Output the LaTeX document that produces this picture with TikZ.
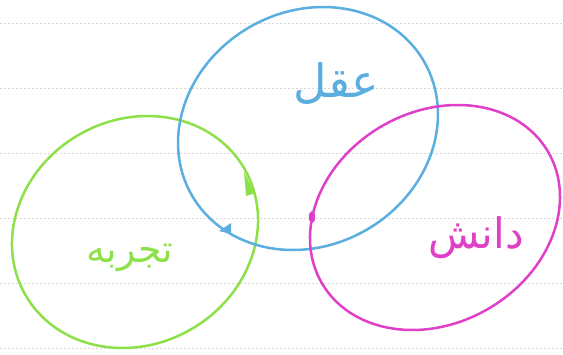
\documentclass[tikz,border=0pt]{standalone}
\usepackage{fontspec}
\TeXXeTstate=1
\newfontfamily\arabicfont[Script=Arabic]{DejaVu Sans}
\definecolor{penblue}{HTML}{5AAEE0}
\definecolor{pengreen}{HTML}{8EE04A}
\definecolor{penmag}{HTML}{E040C8}
\definecolor{ruled}{HTML}{D8D8D8}
\tikzset{
  ring/.style={line width=2.5pt, line cap=round, line join=round},
  ruleline/.style={ruled, line width=0.8pt, dash pattern=on 2pt off 2pt},
  word/.style={inner sep=0pt}
}
\begin{document}
\begin{tikzpicture}[x=1pt,y=-1pt]
\useasboundingbox (0,0) rectangle (563,354);
\fill[white] (0,0) rectangle (563,354);
% ruled notebook lines
\foreach \yy in {23,88,153,218,283,348}
  \draw[ruleline] (0,\yy) -- (563,\yy);
% green circle
\draw[ring, pengreen, rotate around={30:(135,232)}] (135,232) ellipse [x radius=126.4, y radius=112.3];
% blue circle
\draw[ring, penblue, rotate around={30:(308,128.5)}] (308,128.5) ellipse [x radius=134, y radius=117];
% magenta circle
\draw[ring, penmag, rotate around={30:(435,217.5)}] (435,217.5) ellipse [x radius=130.8, y radius=105.7];
% pen marks
\fill[pengreen] (244,172) -- (255,193) -- (246,196) -- cycle;
\fill[penblue] (219,231) -- (231,223) -- (231,234) -- cycle;
\fill[penmag] (312,217) ellipse [x radius=3.2, y radius=6];
% labels
\node[word, penblue, font=\arabicfont\fontsize{46}{52}\selectfont] (aql) at (336,84) {\beginR عقل\endR};
\node[word, pengreen, font=\arabicfont\fontsize{38}{44}\selectfont] (tajrobe) at (130,258) {\beginR تجربه\endR};
\node[word, penmag, font=\arabicfont\fontsize{42}{48}\selectfont] (danesh) at (476,238) {\beginR دانش\endR};
\end{tikzpicture}
\end{document}
